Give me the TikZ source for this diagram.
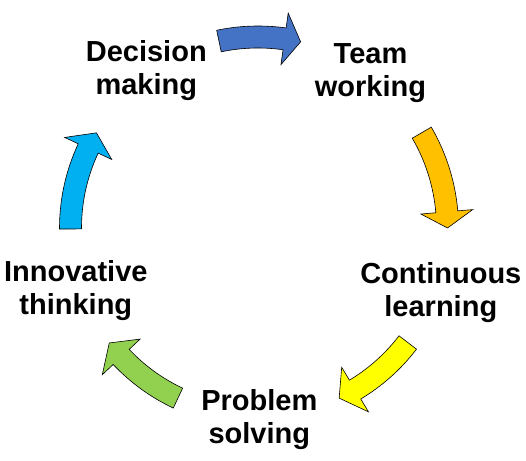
\documentclass[tikz,border=0pt]{standalone}
\usepackage{fontspec}
\setmainfont{Liberation Sans}
\definecolor{cblue}{HTML}{4472C4}
\definecolor{corange}{HTML}{FFC000}
\definecolor{cyellow}{HTML}{FFFF00}
\definecolor{cgreen}{HTML}{92D050}
\definecolor{ccyan}{HTML}{00B0F0}
\newcommand{\shw}{11}
\newcommand{\hhw}{26}
% #1 colour, #2 tail angle, #3 head-base angle, #4 tip angle, #5 radius
\newcommand{\cyclearrow}[5]{%
  \draw[cyc, fill=#1] (#2:{#5+\shw}) arc[start angle=#2, end angle=#3, radius={#5+\shw}]
    -- (#3:{#5+\hhw}) -- (#4:#5) -- (#3:{#5-\hhw}) -- (#3:{#5-\shw})
    arc[start angle=#3, end angle=#2, radius={#5-\shw}] -- cycle;}
\begin{document}
\begin{tikzpicture}[x=1pt,y=1pt,
  lbl/.style={font=\fontsize{29}{33}\selectfont\bfseries, align=center, anchor=north, inner sep=0pt},
  cyc/.style={draw=black, line width=0.6pt, line join=miter}]
\useasboundingbox (0,0) rectangle (526,460);
\begin{scope}[shift={(258,232)}]
  \cyclearrow{cblue}{101.8}{82}{77.1}{191}
  \cyclearrow{corange}{30.2}{4.9}{0}{189.5}
  \cyclearrow{cyellow}{-37.4}{-59}{-64.5}{188.5}
  \cyclearrow{cgreen}{-115.2}{-136.7}{-142.3}{188}
  \cyclearrow{ccyan}{180.3}{154.9}{149.5}{187.5}
\end{scope}
\node[lbl] (dec) at (146.3,420) {Decision\\making};
\node[lbl] (team) at (370.5,416.7) {Team\\working};
\node[lbl] (cont) at (440.8,197.3) {Continuous\\learning};
\node[lbl] (prob) at (259.3,70.7) {Problem\\solving};
\node[lbl] (innov) at (75.8,200) {Innovative\\thinking};
\end{tikzpicture}
\end{document}
